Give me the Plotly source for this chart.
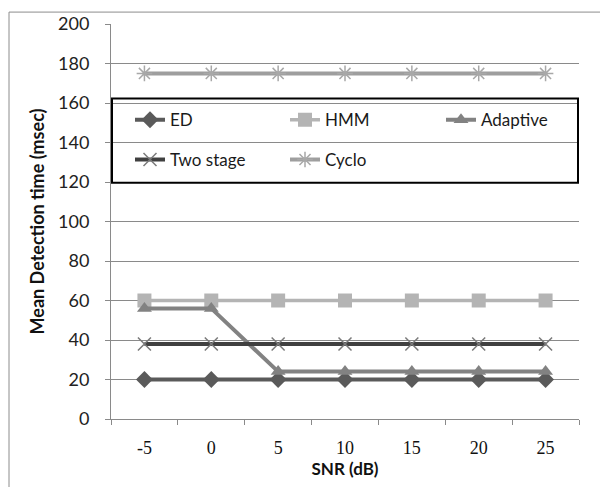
import plotly.graph_objects as go

snr = ["-5", "0", "5", "10", "15", "20", "25"]
ed = [20, 20, 20, 20, 20, 20, 20]
hmm = [60, 60, 60, 60, 60, 60, 60]
adaptive = [56, 56, 24, 24, 24, 24, 24]
two_stage = [38, 38, 38, 38, 38, 38, 38]
cyclo = [175, 175, 175, 175, 175, 175, 175]

W, H = 600, 487
L, R, T, B = 111, 21, 22, 67
pw, ph = W - L - R, H - T - B

def px(xp):
    return (xp - L) / pw

def py(yp):
    return (H - B - yp) / ph

fig = go.Figure()

series = [
    ("ED", ed, "#5a5a5a", dict(symbol="diamond", size=13, color="#5a5a5a"), 4, "legend", 130, 119),
    ("HMM", hmm, "#b4b4b4", dict(symbol="square", size=14, color="#b4b4b4"), 3.5, "legend2", 285, 119),
    ("Adaptive", adaptive, "#828282", dict(symbol="triangle-up", size=13, color="#828282"), 4, "legend3", 441, 119),
    ("Two stage", two_stage, "#404040", dict(symbol="x-thin-open", size=13, color="#7a7a7a", line=dict(width=1.5, color="#7a7a7a")), 4, "legend4", 130, 159),
    ("Cyclo", cyclo, "#9e9e9e", dict(symbol="asterisk-open", size=13, color="#a8a8a8", line=dict(width=1.5, color="#a8a8a8")), 4, "legend5", 285, 159),
]

legends = {}
for name, vals, lc, mk, lw, lg, lx, ly in series:
    fig.add_trace(go.Scatter(
        x=snr, y=vals, name=name, mode="lines+markers",
        line=dict(color=lc, width=lw), marker=mk, legend=lg,
    ))
    legends[lg] = dict(
        x=px(lx), y=py(ly), xanchor="left", yanchor="middle",
        orientation="h", bgcolor="rgba(0,0,0,0)", borderwidth=0,
        font=dict(family="Lato", size=17, color="#1a1a1a"),
    )

fig.update_layout(
    width=W, height=H,
    margin=dict(l=L, r=R, t=T, b=B),
    paper_bgcolor="white", plot_bgcolor="white",
    showlegend=True,
    **legends,
    xaxis=dict(
        type="category", range=[-0.5, 6.5], tickson="boundaries",
        ticks="outside", ticklen=5, tickcolor="#8a8a8a",
        showline=True, linecolor="#8a8a8a", linewidth=1,
        showgrid=False, zeroline=False,
        ticklabelstandoff=12,
        tickfont=dict(family="Liberation Serif", size=18, color="#111"),
        title=dict(text="<b>SNR (dB)</b>", font=dict(family="Lato", size=17, color="#111"), standoff=6),
    ),
    yaxis=dict(
        range=[0, 200], dtick=20, tick0=0,
        ticks="outside", ticklen=5, tickcolor="#8a8a8a",
        showline=True, linecolor="#8a8a8a", linewidth=1,
        showgrid=True, gridcolor="#8a8a8a", gridwidth=1,
        zeroline=False,
        ticklabelstandoff=12,
        tickfont=dict(family="Lato", size=18, color="#222"),
        title=dict(text="<b>Mean Detection time (msec)</b>", font=dict(family="Lato", size=18, color="#111"), standoff=8),
    ),
    shapes=[
        dict(type="rect", xref="paper", yref="paper",
             x0=px(112), x1=px(578), y0=py(182), y1=py(97),
             line=dict(color="black", width=2), fillcolor="rgba(0,0,0,0)"),
        dict(type="rect", xref="paper", yref="paper",
             x0=px(9), x1=px(640), y0=py(520), y1=py(10),
             line=dict(color="#8c8c8c", width=1), fillcolor="rgba(0,0,0,0)", layer="below"),
    ],
)

fig.write_html("out.html")
